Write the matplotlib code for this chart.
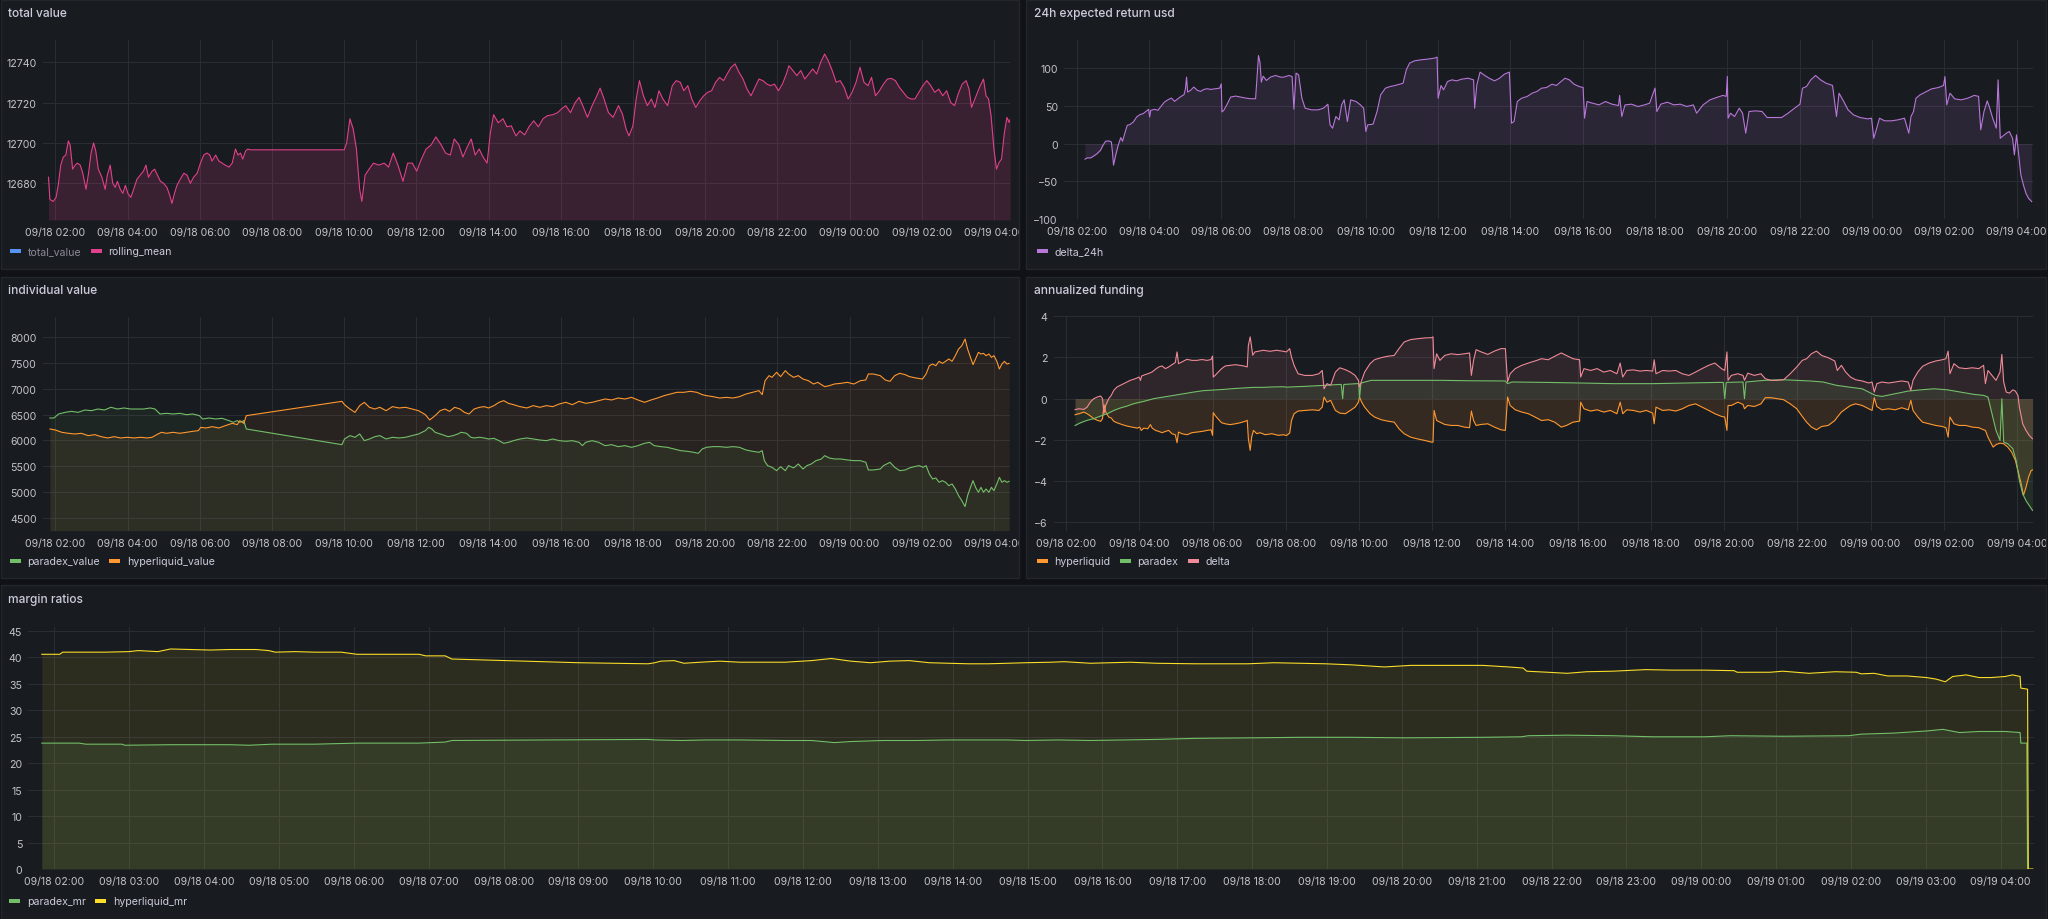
import numpy as np
import matplotlib.pyplot as plt
from matplotlib.patches import Rectangle
from matplotlib.transforms import Bbox, TransformedBbox

plt.rcParams['font.family'] = ['Inter', 'DejaVu Sans']

# --- colours (grafana dark theme) ---
PAGE_BG = '#111217'
PANEL_BG = '#181b1f'
BORDER = '#23262b'
TEXT = '#ccccdc'
TICK = '#c3c3cd'
DIM = '#8b8b96'
GRID = '#2a2d33'

W, H = 2048, 920

# --- time axis: hours since 09/18 00:00 ---
X_MIN, X_MAX = 1.65, 28.45
ticks_2h = [2, 4, 6, 8, 10, 12, 14, 16, 18, 20, 22, 24, 26, 28]
labels_2h = ['09/18 02:00', '09/18 04:00', '09/18 06:00', '09/18 08:00', '09/18 10:00',
             '09/18 12:00', '09/18 14:00', '09/18 16:00', '09/18 18:00', '09/18 20:00',
             '09/18 22:00', '09/19 00:00', '09/19 02:00', '09/19 04:00']
ticks_1h = [2, 3, 4, 5, 6, 7, 8, 9, 10, 11, 12, 13, 14, 15, 16, 17, 18, 19, 20, 21,
            22, 23, 24, 25, 26, 27, 28]
labels_1h = ['09/18 02:00', '09/18 03:00', '09/18 04:00', '09/18 05:00', '09/18 06:00',
             '09/18 07:00', '09/18 08:00', '09/18 09:00', '09/18 10:00', '09/18 11:00',
             '09/18 12:00', '09/18 13:00', '09/18 14:00', '09/18 15:00', '09/18 16:00',
             '09/18 17:00', '09/18 18:00', '09/18 19:00', '09/18 20:00', '09/18 21:00',
             '09/18 22:00', '09/18 23:00', '09/19 00:00', '09/19 01:00', '09/19 02:00',
             '09/19 03:00', '09/19 04:00']

# --- total value: rolling_mean (hour, usd) ---
rolling_mean = [
    (1.81, 12683), (1.85, 12672), (1.94, 12671), (2.02, 12673), (2.08, 12679), (2.15, 12689),
    (2.22, 12693), (2.29, 12694), (2.36, 12701), (2.41, 12699), (2.48, 12687), (2.55, 12689),
    (2.61, 12690), (2.69, 12689), (2.76, 12685), (2.85, 12677), (2.92, 12685), (2.99, 12695),
    (3.06, 12700), (3.12, 12696), (3.19, 12687), (3.29, 12683), (3.38, 12677), (3.44, 12684),
    (3.52, 12689), (3.59, 12680), (3.66, 12678), (3.72, 12681), (3.80, 12677), (3.87, 12675),
    (3.94, 12679), (4.01, 12675), (4.09, 12673), (4.17, 12677), (4.26, 12682), (4.35, 12684),
    (4.44, 12686), (4.51, 12689), (4.58, 12683), (4.68, 12686), (4.75, 12687), (4.83, 12684),
    (4.91, 12681), (5.00, 12680), (5.09, 12678), (5.17, 12674), (5.23, 12670), (5.30, 12675),
    (5.37, 12679), (5.46, 12682), (5.56, 12685), (5.65, 12684), (5.74, 12680), (5.83, 12683),
    (5.93, 12685), (6.02, 12690), (6.11, 12694), (6.20, 12695), (6.28, 12694), (6.34, 12691),
    (6.44, 12694), (6.53, 12691), (6.62, 12690), (6.71, 12689), (6.81, 12688), (6.90, 12690),
    (6.99, 12697), (7.06, 12694), (7.13, 12695), (7.19, 12692), (7.27, 12696), (7.33, 12697),
    (7.40, 12696.6), (10.00, 12696.6), (10.07, 12700), (10.16, 12712), (10.25, 12707),
    (10.34, 12697), (10.43, 12677), (10.49, 12671), (10.58, 12684), (10.69, 12687),
    (10.81, 12690), (10.96, 12689), (11.11, 12690), (11.23, 12688), (11.36, 12695),
    (11.49, 12689), (11.63, 12681), (11.76, 12690), (11.89, 12690), (12.01, 12686),
    (12.14, 12692), (12.27, 12697), (12.41, 12699), (12.54, 12703), (12.69, 12699),
    (12.81, 12695), (12.94, 12694), (13.05, 12702), (13.18, 12699), (13.29, 12693),
    (13.41, 12698), (13.52, 12702), (13.63, 12694), (13.74, 12697), (13.85, 12693),
    (13.96, 12690), (14.05, 12705), (14.14, 12714), (14.27, 12710), (14.40, 12712),
    (14.51, 12708), (14.63, 12708.5), (14.76, 12703.5), (14.87, 12706), (15.00, 12704),
    (15.12, 12708), (15.25, 12711), (15.38, 12708), (15.51, 12712), (15.63, 12713.5),
    (15.78, 12714), (15.91, 12715), (16.03, 12717), (16.14, 12718.5), (16.27, 12715),
    (16.40, 12720), (16.51, 12722.6), (16.63, 12717.6), (16.74, 12712.7), (16.87, 12718.5),
    (17.00, 12723.4), (17.09, 12727.2), (17.20, 12721.8), (17.32, 12715.1), (17.45, 12712.7),
    (17.60, 12718.5), (17.71, 12714.3), (17.81, 12706.9), (17.89, 12703.5), (18.00, 12708.5),
    (18.09, 12721.8), (18.18, 12730.9), (18.29, 12723.4), (18.40, 12718.5), (18.51, 12721.8),
    (18.61, 12717.6), (18.72, 12725.9), (18.83, 12721.8), (18.96, 12718.5), (19.09, 12728.4),
    (19.20, 12730.9), (19.31, 12730.1), (19.41, 12725.9), (19.52, 12728.4), (19.63, 12721.8),
    (19.74, 12717.6), (19.85, 12720.9), (19.96, 12723.4), (20.07, 12725.1), (20.18, 12725.9),
    (20.29, 12730.1), (20.40, 12732.5), (20.51, 12730.9), (20.61, 12734.2), (20.72, 12737.5),
    (20.83, 12739.2), (20.94, 12735.0), (21.05, 12731.7), (21.16, 12726.7), (21.27, 12723.4),
    (21.38, 12727.6), (21.49, 12731.7), (21.60, 12730.9), (21.71, 12729.2), (21.81, 12728.4),
    (21.92, 12729.2), (22.03, 12725.9), (22.14, 12729.2), (22.25, 12734.2), (22.32, 12738.3),
    (22.43, 12735.9), (22.54, 12733.4), (22.65, 12735.9), (22.76, 12731.7), (22.87, 12734.2),
    (22.98, 12736.7), (23.09, 12734.2), (23.20, 12740.0), (23.31, 12744.1), (23.41, 12740.8),
    (23.52, 12735.9), (23.63, 12730.1), (23.74, 12730.9), (23.85, 12727.6), (23.96, 12721.8),
    (24.07, 12725.1), (24.18, 12730.1), (24.29, 12737.5), (24.40, 12730.1), (24.51, 12728.4),
    (24.61, 12732.5), (24.72, 12723.4), (24.83, 12725.9), (24.94, 12729.2), (25.05, 12731.7),
    (25.16, 12732.0), (25.27, 12730.9), (25.38, 12727.6), (25.49, 12725.1), (25.60, 12722.6),
    (25.71, 12721.8), (25.81, 12721.8), (25.92, 12725.1), (26.03, 12728.4), (26.14, 12730.9),
    (26.25, 12728.4), (26.36, 12725.1), (26.47, 12726.7), (26.58, 12723.4), (26.69, 12725.9),
    (26.80, 12720.1), (26.91, 12718.5), (27.01, 12724.3), (27.12, 12729.2), (27.23, 12730.9),
    (27.31, 12726.7), (27.38, 12717.6), (27.49, 12722.6), (27.60, 12727.6), (27.71, 12731.7),
    (27.78, 12723.4), (27.85, 12721.8), (27.92, 12713.5), (28.00, 12696.9), (28.07, 12687.0),
    (28.14, 12690.3), (28.21, 12692.0), (28.29, 12705.2), (28.36, 12712.7), (28.42, 12710.2),
    (28.45, 12711.8),
]

# --- 24h expected return usd: delta_24h ---
delta_24h = [
    (2.23, -20.6), (2.29, -18.9), (2.39, -18.9), (2.48, -16.2), (2.57, -13.2), (2.66, -8.8),
    (2.73, -2.2), (2.80, 3.1), (2.89, 3.5), (2.96, 2.2), (2.99, -11), (3.02, -28.5),
    (3.08, -15.4), (3.15, -2.2), (3.22, 7.9), (3.27, 3.1), (3.33, 13.2), (3.40, 24.1),
    (3.47, 25), (3.57, 28.5), (3.66, 35.1), (3.75, 38.2), (3.84, 39.5), (3.92, 42.5),
    (3.99, 45.2), (4.02, 35), (4.05, 43.9), (4.16, 45.2), (4.25, 43.9), (4.34, 49.6),
    (4.43, 54.8), (4.53, 57.9), (4.62, 60.1), (4.71, 55.7), (4.80, 59.2), (4.89, 62.3),
    (4.97, 64.5), (5.01, 72.4), (5.04, 87.7), (5.07, 68), (5.15, 70.2), (5.24, 74.6),
    (5.34, 70.2), (5.43, 68.9), (5.52, 71.5), (5.61, 72.4), (5.71, 71.5), (5.84, 72.4),
    (5.96, 73.2), (6.00, 78.9), (6.02, 41.7), (6.07, 43.9), (6.17, 52.6), (6.26, 61.4),
    (6.40, 62.7), (6.53, 61.4), (6.67, 60.1), (6.81, 59.2), (6.95, 59.2), (6.99, 87.7),
    (7.03, 116.2), (7.07, 107.5), (7.11, 81.1), (7.16, 89), (7.25, 83.3), (7.36, 87.7),
    (7.50, 89.9), (7.64, 87.7), (7.73, 87.7), (7.87, 89.9), (7.96, 88.5), (8.01, 45.4),
    (8.07, 93), (8.14, 90.7), (8.23, 60), (8.32, 46.7), (8.50, 44.5), (8.68, 44.5),
    (8.83, 46.7), (8.95, 52), (9.01, 24.7), (9.08, 20.3), (9.17, 35.7), (9.26, 31.3),
    (9.33, 51.1), (9.40, 57.7), (9.49, 29.1), (9.58, 57.7), (9.73, 55.5), (9.85, 51.1),
    (9.94, 46.7), (10.00, 15.9), (10.05, 24.7), (10.20, 25.6), (10.31, 42.3), (10.41, 64.3),
    (10.54, 73.1), (10.67, 75.3), (10.81, 76.7), (10.94, 78.4), (11.03, 79.7), (11.12, 97.4),
    (11.21, 106.2), (11.35, 109.3), (11.53, 110.6), (11.71, 111.5), (11.90, 112.8),
    (11.97, 114.1), (12.00, 59.9), (12.08, 76.7), (12.15, 70.9), (12.26, 81.9), (12.38, 84.1),
    (12.51, 82.8), (12.65, 85), (12.83, 86.3), (12.98, 84.1), (13.01, 46.7), (13.07, 77.5),
    (13.16, 94.3), (13.29, 89.9), (13.41, 86.3), (13.56, 82.8), (13.70, 86.3), (13.83, 91.6),
    (13.97, 94.3), (14.03, 26.9), (14.10, 29.1), (14.19, 55.5), (14.31, 59.9), (14.46, 62.1),
    (14.60, 66.5), (14.73, 68.7), (14.86, 73.1), (15.00, 74), (15.15, 78.4), (15.27, 76.7),
    (15.40, 81.9), (15.51, 86.3), (15.63, 84.1), (15.76, 78.4), (15.90, 75.3), (16.01, 74),
    (16.05, 33.5), (16.12, 55.5), (16.27, 53.3), (16.45, 51.1), (16.63, 55.5), (16.81, 52),
    (16.99, 50.2), (17.02, 63.6), (17.08, 35.7), (17.17, 51.1), (17.35, 52), (17.53, 48.9),
    (17.71, 51.1), (17.85, 53.3), (18.00, 73.3), (18.05, 42.3), (18.16, 52), (18.34, 54.6),
    (18.52, 51.1), (18.70, 52), (18.88, 48.9), (19.06, 51.1), (19.15, 40.1), (19.33, 51.1),
    (19.52, 57.7), (19.70, 60.8), (19.88, 63.6), (19.97, 62.3), (20.00, 88.7), (20.02, 33.5),
    (20.09, 40.1), (20.20, 35.7), (20.33, 46.7), (20.42, 40.1), (20.51, 13.7), (20.60, 42.3),
    (20.78, 43.2), (20.96, 42.3), (21.10, 34.4), (21.32, 34.4), (21.50, 34.4), (21.68, 40.1),
    (21.86, 46.7), (22.01, 52), (22.08, 73.1), (22.19, 75.3), (22.31, 84.1), (22.44, 89.9),
    (22.58, 84.1), (22.73, 79.7), (22.91, 76.7), (23.02, 35.7), (23.09, 66.5), (23.22, 55.5),
    (23.34, 44.5), (23.49, 37.9), (23.67, 34.4), (23.88, 32.6), (23.99, 33.5), (24.05, 7),
    (24.12, 18.1), (24.21, 33.5), (24.35, 30), (24.54, 30), (24.72, 31.3), (24.90, 33.5),
    (25.02, 13.7), (25.08, 35.7), (25.15, 42.3), (25.22, 59.9), (25.33, 64.3), (25.47, 67.8),
    (25.65, 72.2), (25.84, 74), (25.98, 76.7), (26.02, 88.5), (26.07, 51.1), (26.16, 66.5),
    (26.29, 59), (26.47, 57.7), (26.65, 59.9), (26.83, 63.6), (26.95, 62.3), (27.01, 18.1),
    (27.10, 42.3), (27.19, 56.4), (27.26, 46.7), (27.34, 33.5), (27.44, 20.3), (27.49, 84.1),
    (27.55, 7), (27.61, 9.3), (27.72, 13.7), (27.80, 15.9), (27.89, 7), (27.94, -15),
    (28.00, 11.5), (28.06, -15), (28.12, -41.4), (28.19, -54.6), (28.26, -65.6),
    (28.33, -72.2), (28.42, -76.7),
]

# --- individual value ---
paradex_value = [
    (1.85, 6433), (1.96, 6433), (2.09, 6510), (2.27, 6542), (2.45, 6561), (2.63, 6542),
    (2.82, 6587), (3.00, 6574), (3.18, 6606), (3.36, 6587), (3.54, 6639), (3.72, 6606),
    (3.90, 6626), (4.09, 6606), (4.27, 6606), (4.45, 6606), (4.63, 6626), (4.76, 6606),
    (4.90, 6510), (5.08, 6523), (5.26, 6510), (5.45, 6523), (5.63, 6497), (5.81, 6510),
    (5.99, 6478), (6.08, 6414), (6.26, 6433), (6.44, 6414), (6.62, 6427), (6.81, 6382),
    (6.93, 6350), (7.04, 6382), (7.11, 6350), (7.22, 6382), (7.29, 6221), (9.94, 5919),
    (10.01, 6028), (10.16, 6093), (10.30, 6061), (10.43, 6125), (10.56, 5996), (10.70, 6028),
    (10.85, 6073), (10.99, 6093), (11.16, 6028), (11.34, 6061), (11.52, 6048), (11.70, 6061),
    (11.88, 6093), (12.06, 6125), (12.25, 6189), (12.34, 6253), (12.43, 6221), (12.52, 6157),
    (12.66, 6125), (12.79, 6093), (12.88, 6073), (13.02, 6093), (13.15, 6125), (13.24, 6157),
    (13.39, 6138), (13.51, 6061), (13.60, 6048), (13.75, 6061), (13.88, 6048), (14.00, 6028),
    (14.15, 6041), (14.29, 5996), (14.42, 5945), (14.55, 5964), (14.69, 5996), (14.87, 6028),
    (15.06, 6048), (15.24, 6028), (15.42, 6009), (15.60, 5996), (15.78, 6028), (15.96, 5996),
    (16.14, 5984), (16.32, 5996), (16.51, 5964), (16.60, 5900), (16.69, 5964), (16.87, 5996),
    (17.05, 5964), (17.23, 5900), (17.41, 5919), (17.59, 5881), (17.78, 5900), (17.96, 5868),
    (18.14, 5900), (18.32, 5945), (18.46, 5964), (18.59, 5900), (18.77, 5881), (18.95, 5868),
    (19.13, 5836), (19.32, 5804), (19.50, 5791), (19.68, 5772), (19.81, 5752), (19.92, 5836),
    (20.04, 5868), (20.22, 5881), (20.40, 5881), (20.59, 5868), (20.77, 5881), (20.95, 5868),
    (21.13, 5817), (21.31, 5791), (21.49, 5772), (21.58, 5804), (21.64, 5611), (21.73, 5515),
    (21.85, 5483), (21.98, 5418), (22.09, 5495), (22.22, 5418), (22.31, 5515), (22.45, 5470),
    (22.58, 5547), (22.71, 5450), (22.82, 5515), (22.94, 5547), (23.07, 5611), (23.22, 5643),
    (23.31, 5707), (23.44, 5662), (23.58, 5643), (23.76, 5643), (23.94, 5624), (24.12, 5611),
    (24.30, 5611), (24.45, 5579), (24.52, 5431), (24.66, 5431), (24.85, 5450), (24.94, 5515),
    (25.03, 5547), (25.12, 5579), (25.25, 5483), (25.39, 5418), (25.54, 5431), (25.66, 5470),
    (25.79, 5495), (25.93, 5515), (26.04, 5483), (26.12, 5515), (26.21, 5354), (26.30, 5258),
    (26.39, 5277), (26.48, 5194), (26.57, 5226), (26.66, 5194), (26.75, 5129), (26.84, 5162),
    (26.93, 5065), (27.02, 4937), (27.11, 4840), (27.20, 4725), (27.27, 4937), (27.35, 5097),
    (27.42, 5226), (27.49, 5097), (27.57, 5001), (27.64, 5097), (27.71, 5001), (27.78, 5065),
    (27.86, 5001), (27.93, 5097), (28.00, 5033), (28.08, 5162), (28.15, 5290), (28.22, 5194),
    (28.29, 5226), (28.36, 5194), (28.42, 5213),
]
hyperliquid_value = [
    (1.85, 6221), (2.00, 6202), (2.18, 6157), (2.36, 6138), (2.54, 6125), (2.72, 6138),
    (2.91, 6093), (3.09, 6112), (3.27, 6073), (3.45, 6048), (3.63, 6073), (3.81, 6048),
    (3.99, 6061), (4.18, 6048), (4.36, 6061), (4.54, 6048), (4.68, 6061), (4.81, 6112),
    (4.94, 6157), (5.08, 6138), (5.26, 6157), (5.45, 6138), (5.63, 6157), (5.81, 6176),
    (5.96, 6189), (6.03, 6253), (6.17, 6240), (6.35, 6266), (6.53, 6240), (6.71, 6285),
    (6.90, 6330), (7.04, 6305), (7.11, 6382), (7.22, 6330), (7.29, 6478), (9.94, 6754),
    (10.01, 6690), (10.16, 6606), (10.30, 6542), (10.43, 6671), (10.56, 6735), (10.70, 6639),
    (10.85, 6606), (10.99, 6639), (11.16, 6574), (11.34, 6652), (11.52, 6626), (11.70, 6639),
    (11.88, 6606), (12.06, 6574), (12.25, 6497), (12.37, 6395), (12.52, 6478), (12.66, 6574),
    (12.79, 6606), (12.92, 6561), (13.06, 6639), (13.21, 6606), (13.33, 6542), (13.46, 6510),
    (13.60, 6606), (13.75, 6639), (13.88, 6652), (14.00, 6626), (14.15, 6671), (14.29, 6735),
    (14.42, 6767), (14.55, 6716), (14.69, 6690), (14.87, 6652), (15.06, 6626), (15.24, 6671),
    (15.42, 6639), (15.60, 6671), (15.78, 6652), (15.96, 6703), (16.14, 6735), (16.32, 6690),
    (16.51, 6754), (16.69, 6716), (16.87, 6735), (17.05, 6767), (17.23, 6799), (17.41, 6780),
    (17.59, 6818), (17.78, 6799), (17.96, 6831), (18.14, 6780), (18.32, 6735), (18.50, 6780),
    (18.68, 6818), (18.86, 6863), (19.04, 6895), (19.22, 6928), (19.41, 6928), (19.59, 6947),
    (19.77, 6928), (19.92, 6883), (20.04, 6863), (20.22, 6844), (20.40, 6818), (20.59, 6831),
    (20.77, 6818), (20.95, 6844), (21.13, 6895), (21.31, 6928), (21.49, 6960), (21.58, 6883),
    (21.66, 7152), (21.77, 7249), (21.85, 7217), (21.98, 7313), (22.09, 7230), (22.22, 7345),
    (22.31, 7281), (22.45, 7217), (22.58, 7249), (22.71, 7184), (22.86, 7152), (23.00, 7088),
    (23.12, 7120), (23.31, 7037), (23.44, 7056), (23.58, 7088), (23.76, 7101), (23.94, 7120),
    (24.12, 7088), (24.30, 7152), (24.45, 7165), (24.52, 7281), (24.66, 7281), (24.85, 7249),
    (24.99, 7165), (25.12, 7139), (25.25, 7249), (25.39, 7294), (25.54, 7268), (25.66, 7230),
    (25.84, 7204), (26.02, 7184), (26.12, 7281), (26.21, 7441), (26.30, 7473), (26.39, 7441),
    (26.48, 7525), (26.57, 7486), (26.66, 7525), (26.75, 7570), (26.84, 7525), (26.93, 7634),
    (27.02, 7762), (27.11, 7827), (27.20, 7955), (27.27, 7762), (27.35, 7602), (27.42, 7461),
    (27.49, 7570), (27.57, 7698), (27.64, 7666), (27.71, 7679), (27.78, 7634), (27.86, 7666),
    (27.93, 7602), (28.00, 7634), (28.08, 7525), (28.15, 7377), (28.22, 7473), (28.29, 7525),
    (28.36, 7473), (28.42, 7486),
]

# --- annualized funding ---
funding_hyperliquid = [
    (2.24, -0.78), (2.35, -0.73), (2.48, -0.65), (2.57, -0.73), (2.66, -0.84), (2.75, -0.97),
    (2.85, -1.05), (2.94, -1.10), (2.99, -0.97), (3.03, -0.29), (3.08, -0.65), (3.16, -0.89),
    (3.23, -0.94), (3.30, -1.10), (3.39, -1.17), (3.53, -1.26), (3.66, -1.33), (3.80, -1.38),
    (3.94, -1.43), (4.01, -1.38), (4.05, -1.54), (4.12, -1.43), (4.23, -1.46), (4.30, -1.26),
    (4.35, -1.43), (4.44, -1.54), (4.53, -1.59), (4.62, -1.65), (4.71, -1.59), (4.80, -1.54),
    (4.89, -1.70), (4.98, -1.75), (5.03, -2.14), (5.07, -1.62), (5.16, -1.70), (5.30, -1.75),
    (5.44, -1.65), (5.57, -1.62), (5.71, -1.59), (5.85, -1.54), (5.96, -1.51), (6.00, -1.78),
    (6.02, -0.68), (6.07, -0.81), (6.16, -1.00), (6.25, -1.17), (6.35, -1.22), (6.48, -1.26),
    (6.62, -1.22), (6.75, -1.17), (6.89, -1.10), (6.95, -1.05), (6.98, -1.94), (7.03, -2.51),
    (7.07, -1.86), (7.12, -1.54), (7.21, -1.70), (7.30, -1.65), (7.44, -1.75), (7.62, -1.70),
    (7.80, -1.78), (7.94, -1.75), (8.02, -1.79), (8.11, -1.67), (8.16, -1.06), (8.23, -0.73),
    (8.34, -0.60), (8.52, -0.57), (8.73, -0.54), (8.91, -0.57), (9.00, -0.41), (9.05, 0.08),
    (9.13, -0.17), (9.23, -0.08), (9.36, -0.57), (9.48, -0.70), (9.63, -0.73), (9.77, -0.57),
    (9.90, -0.41), (9.99, -0.17), (10.02, 0.08), (10.08, -0.17), (10.16, -0.41), (10.31, -0.73),
    (10.43, -0.89), (10.61, -1.02), (10.79, -1.09), (10.97, -1.14), (11.10, -1.46),
    (11.24, -1.70), (11.42, -1.87), (11.60, -1.95), (11.81, -2.03), (11.99, -2.11),
    (12.03, -2.11), (12.06, -0.57), (12.13, -1.06), (12.22, -1.14), (12.35, -1.25),
    (12.53, -1.30), (12.71, -1.30), (12.89, -1.38), (13.03, -1.41), (13.08, -0.60),
    (13.14, -1.06), (13.21, -1.30), (13.35, -1.25), (13.53, -1.22), (13.71, -1.38),
    (13.89, -1.51), (14.01, -1.54), (14.07, 0.08), (14.14, -0.33), (14.28, -0.54),
    (14.46, -0.65), (14.64, -0.73), (14.82, -0.89), (15.00, -1.06), (15.18, -1.02),
    (15.36, -1.14), (15.54, -1.38), (15.68, -1.30), (15.86, -1.14), (16.04, -1.09),
    (16.07, -0.17), (16.16, -0.49), (16.34, -0.60), (16.52, -0.54), (16.70, -0.65),
    (16.88, -0.57), (17.06, -0.73), (17.15, -0.17), (17.22, -0.73), (17.33, -0.54),
    (17.51, -0.57), (17.69, -0.65), (17.86, -0.57), (18.04, -0.70), (18.08, -1.22),
    (18.13, -0.41), (18.31, -0.57), (18.49, -0.54), (18.67, -0.60), (18.85, -0.49),
    (19.03, -0.33), (19.21, -0.25), (19.39, -0.41), (19.57, -0.57), (19.74, -0.73),
    (19.92, -0.86), (20.01, -0.89), (20.07, -1.54), (20.10, -0.33), (20.19, -0.33),
    (20.37, -0.17), (20.51, -0.28), (20.55, -0.49), (20.64, -0.33), (20.82, -0.38),
    (21.00, -0.25), (21.12, 0.05), (21.27, 0.05), (21.44, 0.00), (21.62, -0.05),
    (21.80, -0.25), (21.98, -0.49), (22.13, -0.86), (22.25, -1.14), (22.38, -1.38),
    (22.52, -1.51), (22.66, -1.35), (22.84, -1.30), (23.02, -1.06), (23.09, -0.89),
    (23.20, -0.65), (23.32, -0.49), (23.45, -0.33), (23.59, -0.25), (23.77, -0.33),
    (23.95, -0.49), (24.04, -0.57), (24.10, 0.05), (24.17, -0.38), (24.31, -0.54),
    (24.49, -0.49), (24.67, -0.54), (24.85, -0.44), (25.03, -0.54), (25.10, -0.08),
    (25.16, -0.57), (25.29, -0.89), (25.42, -1.14), (25.60, -1.22), (25.78, -1.30),
    (25.96, -1.35), (26.06, -1.41), (26.12, -1.87), (26.17, -0.89), (26.28, -1.22),
    (26.42, -1.30), (26.60, -1.30), (26.78, -1.38), (26.96, -1.41), (27.09, -1.51),
    (27.14, -1.54), (27.21, -1.87), (27.28, -2.11), (27.35, -2.35), (27.44, -2.22),
    (27.54, -2.16), (27.64, -2.19), (27.75, -2.35), (27.86, -2.60), (27.96, -3.00),
    (28.03, -3.49), (28.11, -4.06), (28.18, -4.70), (28.25, -4.30), (28.32, -3.81),
    (28.39, -3.49), (28.43, -3.46),
]
funding_paradex = [
    (2.24, -1.30), (2.39, -1.17), (2.57, -1.05), (2.75, -0.97), (2.94, -0.84), (3.12, -0.73),
    (3.30, -0.57), (3.48, -0.45), (3.66, -0.36), (3.85, -0.24), (4.12, -0.13), (4.39, 0.00),
    (4.66, 0.08), (4.94, 0.16), (5.21, 0.24), (5.48, 0.32), (5.75, 0.39), (6.03, 0.42),
    (6.30, 0.45), (6.57, 0.49), (6.85, 0.52), (7.12, 0.55), (7.39, 0.55), (7.66, 0.57),
    (7.94, 0.58), (8.02, 0.56), (8.55, 0.60), (9.09, 0.65), (9.45, 0.69), (9.52, 0.69),
    (9.56, 0.00), (9.59, 0.69), (9.95, 0.73), (10.00, 0.73), (10.02, 0.00), (10.06, 0.76),
    (10.34, 0.89), (10.88, 0.89), (11.60, 0.89), (12.31, 0.89), (13.03, 0.87), (14.01, 0.86),
    (14.07, 0.73), (14.19, 0.81), (15.18, 0.79), (16.07, 0.76), (16.97, 0.73), (17.24, 0.73),
    (18.04, 0.73), (18.94, 0.76), (19.83, 0.79), (19.97, 0.79), (20.01, 0.00), (20.05, 0.79),
    (20.51, 0.81), (20.55, 0.00), (20.59, 0.81), (21.09, 0.89), (21.62, 0.92), (21.98, 0.89),
    (22.34, 0.86), (22.70, 0.81), (23.06, 0.65), (23.42, 0.56), (23.77, 0.48), (23.95, 0.32),
    (24.13, 0.16), (24.31, 0.11), (24.67, 0.24), (25.03, 0.37), (25.38, 0.43), (25.74, 0.48),
    (26.10, 0.43), (26.46, 0.32), (26.82, 0.21), (27.09, 0.16), (27.21, 0.08), (27.32, -0.73),
    (27.43, -1.54), (27.54, -2.03), (27.59, 0.00), (27.64, -2.11), (27.75, -2.19),
    (27.89, -2.43), (27.98, -3.00), (28.07, -3.97), (28.16, -4.62), (28.25, -4.95),
    (28.34, -5.19), (28.43, -5.43),
]
funding_delta = [
    (2.24, -0.53), (2.35, -0.49), (2.48, -0.52), (2.57, -0.41), (2.66, -0.16), (2.75, 0.00),
    (2.85, 0.08), (2.94, 0.13), (2.99, 0.00), (3.03, -0.73), (3.08, -0.32), (3.16, 0.00),
    (3.23, 0.16), (3.30, 0.41), (3.39, 0.57), (3.48, 0.65), (3.57, 0.73), (3.66, 0.81),
    (3.75, 0.89), (3.89, 0.97), (3.99, 1.05), (4.03, 0.89), (4.06, 1.10), (4.16, 1.17),
    (4.25, 1.22), (4.35, 1.30), (4.44, 1.43), (4.53, 1.54), (4.62, 1.59), (4.71, 1.46),
    (4.80, 1.54), (4.89, 1.65), (4.98, 1.75), (5.03, 2.27), (5.07, 1.70), (5.16, 1.78),
    (5.30, 1.91), (5.44, 1.86), (5.57, 1.86), (5.71, 1.90), (5.85, 1.86), (5.96, 1.90),
    (6.00, 2.07), (6.02, 1.05), (6.07, 1.13), (6.16, 1.30), (6.25, 1.46), (6.35, 1.59),
    (6.48, 1.62), (6.62, 1.65), (6.75, 1.62), (6.85, 1.59), (6.95, 1.54), (6.98, 2.59),
    (7.03, 3.00), (7.07, 2.51), (7.10, 2.11), (7.16, 2.27), (7.25, 2.30), (7.39, 2.35),
    (7.57, 2.30), (7.75, 2.35), (7.94, 2.30), (8.02, 2.27), (8.11, 2.43), (8.16, 2.02),
    (8.23, 1.62), (8.34, 1.21), (8.52, 1.13), (8.73, 1.13), (8.91, 1.21), (9.00, 1.37),
    (9.05, 0.48), (9.13, 0.73), (9.23, 0.65), (9.36, 1.29), (9.48, 1.50), (9.63, 1.41),
    (9.77, 1.29), (9.90, 1.13), (9.99, 0.89), (10.02, 0.56), (10.08, 0.89), (10.16, 1.29),
    (10.31, 1.70), (10.43, 1.89), (10.61, 1.99), (10.79, 2.06), (10.97, 2.10), (11.10, 2.43),
    (11.24, 2.75), (11.42, 2.87), (11.60, 2.91), (11.81, 2.95), (11.99, 2.96), (12.03, 3.00),
    (12.06, 1.46), (12.13, 2.18), (12.22, 1.86), (12.35, 2.10), (12.53, 2.18), (12.71, 2.14),
    (12.89, 2.18), (13.03, 2.22), (13.08, 1.13), (13.14, 1.86), (13.21, 2.38), (13.35, 2.27),
    (13.53, 2.15), (13.71, 2.31), (13.89, 2.43), (14.01, 2.43), (14.07, 0.81), (14.14, 1.21),
    (14.28, 1.46), (14.46, 1.62), (14.64, 1.73), (14.82, 1.83), (15.00, 1.94), (15.18, 1.89),
    (15.36, 2.06), (15.54, 2.22), (15.68, 2.10), (15.86, 1.94), (16.04, 1.89), (16.07, 1.05),
    (16.16, 1.46), (16.34, 1.37), (16.52, 1.46), (16.70, 1.29), (16.88, 1.37), (17.06, 1.21),
    (17.15, 1.73), (17.22, 1.05), (17.33, 1.37), (17.51, 1.40), (17.69, 1.34), (17.86, 1.37),
    (18.04, 1.34), (18.08, 1.89), (18.13, 1.21), (18.31, 1.37), (18.49, 1.34), (18.67, 1.37),
    (18.85, 1.21), (19.03, 1.13), (19.21, 1.29), (19.39, 1.46), (19.57, 1.62), (19.74, 1.73),
    (19.92, 1.46), (20.01, 1.37), (20.07, 2.27), (20.10, 0.89), (20.19, 1.13), (20.37, 1.21),
    (20.51, 1.13), (20.55, 0.89), (20.64, 1.24), (20.82, 1.13), (21.00, 1.21), (21.12, 0.97),
    (21.27, 0.89), (21.44, 0.89), (21.62, 0.92), (21.80, 1.21), (21.98, 1.54), (22.13, 1.86),
    (22.25, 1.94), (22.38, 2.18), (22.52, 2.31), (22.66, 2.10), (22.84, 1.99), (23.02, 1.83),
    (23.09, 1.37), (23.20, 1.62), (23.32, 1.29), (23.45, 1.05), (23.59, 0.92), (23.77, 0.86),
    (23.95, 0.76), (24.04, 0.81), (24.10, 0.32), (24.17, 0.73), (24.31, 0.81), (24.49, 0.76),
    (24.67, 0.81), (24.85, 0.86), (25.03, 0.81), (25.10, 0.40), (25.16, 0.89), (25.29, 1.29),
    (25.42, 1.57), (25.60, 1.73), (25.78, 1.83), (25.96, 1.89), (26.06, 1.94), (26.12, 2.31),
    (26.17, 1.21), (26.28, 1.70), (26.42, 1.50), (26.60, 1.46), (26.78, 1.50), (26.96, 1.46),
    (27.09, 1.62), (27.14, 0.73), (27.21, 1.37), (27.32, 1.13), (27.43, 0.89), (27.54, 1.29),
    (27.59, 2.15), (27.64, 0.81), (27.71, 0.32), (27.80, 0.27), (27.89, 0.43), (27.96, 0.37),
    (28.03, 0.16), (28.07, -0.41), (28.16, -1.22), (28.25, -1.54), (28.34, -1.79),
    (28.43, -1.95),
]

# --- margin ratios ---
paradex_mr = [
    (1.83, 23.8), (2.33, 23.8), (2.42, 23.6), (2.90, 23.6), (2.94, 23.4), (3.55, 23.5),
    (3.90, 23.5), (4.34, 23.5), (4.60, 23.4), (4.91, 23.6), (5.48, 23.6), (6.04, 23.8),
    (6.52, 23.8), (6.87, 23.8), (7.22, 24.0), (7.31, 24.3), (9.93, 24.5), (10.02, 24.4),
    (10.37, 24.3), (10.72, 24.4), (11.15, 24.4), (11.76, 24.3), (12.11, 24.3), (12.42, 23.9),
    (12.64, 24.1), (13.07, 24.3), (13.51, 24.3), (13.95, 24.4), (14.38, 24.4), (14.73, 24.4),
    (14.97, 24.3), (15.41, 24.4), (15.84, 24.3), (16.72, 24.5), (17.24, 24.7), (18.02, 24.8),
    (18.64, 24.9), (19.33, 24.9), (20.03, 24.8), (21.08, 24.9), (21.60, 25.0), (21.69, 25.2),
    (22.21, 25.3), (22.82, 25.2), (23.35, 25.0), (24.05, 25.0), (24.39, 25.2), (25.09, 25.1),
    (25.97, 25.2), (26.14, 25.5), (26.58, 25.7), (27.01, 26.1), (27.23, 26.4), (27.45, 25.8),
    (27.71, 26.0), (28.06, 26.0), (28.26, 25.8), (28.27, 23.8), (28.35, 23.8), (28.36, 0.0),
]
hyperliquid_mr = [
    (1.83, 40.6), (2.07, 40.6), (2.11, 41.0), (2.42, 41.0), (2.68, 41.0), (2.99, 41.1),
    (3.12, 41.3), (3.38, 41.1), (3.55, 41.6), (3.82, 41.5), (4.08, 41.4), (4.34, 41.5),
    (4.69, 41.5), (4.86, 41.3), (4.95, 41.0), (5.21, 41.1), (5.48, 41.0), (5.83, 41.0),
    (6.04, 40.6), (6.35, 40.6), (6.61, 40.6), (6.87, 40.6), (6.96, 40.3), (7.22, 40.3),
    (7.31, 39.7), (9.01, 39.0), (9.93, 38.8), (10.02, 39.0), (10.10, 39.3), (10.28, 39.4),
    (10.41, 38.9), (10.63, 39.1), (10.89, 39.3), (11.15, 39.1), (11.41, 39.1), (11.76, 39.1),
    (12.11, 39.4), (12.38, 39.8), (12.64, 39.3), (12.90, 39.0), (13.16, 39.3), (13.42, 39.4),
    (13.69, 39.0), (13.95, 38.9), (14.21, 38.8), (14.47, 38.8), (14.73, 38.9), (14.97, 39.0),
    (15.32, 39.1), (15.49, 39.2), (15.84, 38.9), (16.37, 39.1), (16.72, 38.9), (17.24, 38.8),
    (17.59, 38.8), (17.94, 38.8), (18.29, 39.0), (18.64, 38.9), (18.98, 38.8), (19.33, 38.6),
    (19.77, 38.2), (20.12, 38.5), (20.64, 38.5), (21.08, 38.5), (21.43, 38.2), (21.62, 38.0),
    (21.67, 37.4), (21.95, 37.2), (22.21, 37.0), (22.47, 37.3), (22.82, 37.4), (23.26, 37.7),
    (23.61, 37.6), (24.05, 37.6), (24.44, 37.5), (24.48, 37.2), (24.92, 37.2), (25.09, 37.4),
    (25.44, 37.0), (25.79, 37.3), (26.07, 37.2), (26.14, 36.9), (26.31, 37.0), (26.49, 36.5),
    (26.75, 36.5), (27.01, 36.2), (27.14, 35.9), (27.26, 35.4), (27.36, 36.4), (27.54, 36.7),
    (27.71, 36.2), (27.88, 36.2), (28.06, 36.4), (28.16, 36.7), (28.26, 36.4), (28.27, 34.2),
    (28.36, 34.0), (28.37, 0.0), (28.43, 0.0),
]


def fx(x):
    return x / W


def fy(y):
    return 1 - y / H


def panel(fig, left, top, right, bottom, title):
    fig.patches.append(Rectangle((fx(left), fy(bottom)), (right - left) / W, (bottom - top) / H,
                                 transform=fig.transFigure, fc=PANEL_BG, ec=BORDER, lw=1,
                                 zorder=-5))
    fig.text(fx(left + 8), fy(top + 13.5), title, color=TEXT, fontsize=8.6,
             fontweight='medium', ha='left', va='center')
    return TransformedBbox(Bbox.from_extents(fx(left), fy(bottom), fx(right), fy(top)),
                           fig.transFigure)


def plot_axes(fig, left, top, right, bottom, ylim, yticks, xticks, xlabels, clip):
    ax = fig.add_axes([fx(left), fy(bottom), (right - left) / W, (bottom - top) / H])
    ax.set_facecolor('none')
    ax.set_xlim(X_MIN, X_MAX)
    ax.set_ylim(*ylim)
    ax.set_xticks(xticks)
    ax.set_xticklabels(xlabels)
    ax.set_yticks(yticks)
    ax.tick_params(length=0, colors=TICK, labelsize=7.6)
    ax.tick_params(axis='x', pad=5.0)
    ax.tick_params(axis='y', pad=4.4)
    ax.grid(True, color=GRID, lw=0.8)
    ax.set_axisbelow(True)
    for s in ax.spines.values():
        s.set_visible(False)
    for lab in ax.get_xticklabels():
        lab.set_clip_box(clip)
        lab.set_clip_on(True)
    return ax


def legend(fig, x, y, items):
    renderer = fig.canvas.get_renderer()
    for label, color, dim in items:
        fig.patches.append(Rectangle((fx(x), fy(y + 2)), 11 / W, 4 / H,
                                     transform=fig.transFigure, fc=color, ec='none'))
        t = fig.text(fx(x + 17.5), fy(y), label, color=DIM if dim else TEXT,
                     fontsize=7.6, ha='left', va='center')
        w = t.get_window_extent(renderer).width
        x = x + 17.5 + w + 9.5


def series(ax, data, color, base, alpha, lw=0.8):
    arr = np.array(data)
    ax.fill_between(arr[:, 0], arr[:, 1], base, color=color, alpha=alpha, lw=0)
    ax.plot(arr[:, 0], arr[:, 1], color=color, lw=lw)


PINK = '#E2408A'
BLUE = '#5794F2'
PURPLE = '#B877D9'
GREEN = '#73BF69'
ORANGE = '#FF9830'
SALMON = '#F08A98'
YELLOW = '#FADE2A'

fig = plt.figure(figsize=(W / 100, H / 100), dpi=100, facecolor=PAGE_BG)

# total value
clip = panel(fig, 0.5, 0.5, 1019, 270, 'total value')
ax = plot_axes(fig, 42.7, 40.5, 1010.2, 221, (12661.8, 12751.3),
               [12680, 12700, 12720, 12740], ticks_2h, labels_2h, clip)
series(ax, rolling_mean, PINK, 12661.8, 0.17)
legend(fig, 10, 252.3, [('total_value', BLUE, True), ('rolling_mean', PINK, False)])

# 24h expected return usd
clip = panel(fig, 1026, 0.5, 2046, 270, '24h expected return usd')
ax = plot_axes(fig, 1064, 40.5, 2032.8, 220.3, (-100, 137.4),
               [-100, -50, 0, 50, 100], ticks_2h, labels_2h, clip)
series(ax, delta_24h, PURPLE, 0, 0.12)
legend(fig, 1036.7, 252.3, [('delta_24h', PURPLE, False)])

# individual value
clip = panel(fig, 0.5, 278, 1019, 579, 'individual value')
ax = plot_axes(fig, 42.7, 317.7, 1010.2, 531.7, (4261, 8385),
               [4500, 5000, 5500, 6000, 6500, 7000, 7500, 8000], ticks_2h, labels_2h, clip)
series(ax, paradex_value, GREEN, 4261, 0.07)
series(ax, hyperliquid_value, ORANGE, 4261, 0.07)
legend(fig, 9.5, 561.7, [('paradex_value', GREEN, False), ('hyperliquid_value', ORANGE, False)])

# annualized funding
clip = panel(fig, 1026, 278, 2046, 579, 'annualized funding')
ax = plot_axes(fig, 1053.5, 317.3, 2033.3, 531.7, (-6.41, 4.0),
               [-6, -4, -2, 0, 2, 4], ticks_2h, labels_2h, clip)
series(ax, funding_hyperliquid, ORANGE, 0, 0.12)
series(ax, funding_paradex, GREEN, 0, 0.12)
series(ax, funding_delta, SALMON, 0, 0.10)
legend(fig, 1036.7, 561.7, [('hyperliquid', ORANGE, False), ('paradex', GREEN, False),
                            ('delta', SALMON, False)])

# margin ratios
clip = panel(fig, 0.5, 586, 2046, 919.5, 'margin ratios')
ax = plot_axes(fig, 28.3, 628.3, 2034.3, 870, (0, 45.7),
               [0, 5, 10, 15, 20, 25, 30, 35, 40, 45], ticks_1h, labels_1h, clip)
series(ax, paradex_mr, GREEN, 0, 0.10)
series(ax, hyperliquid_mr, YELLOW, 0, 0.09)
legend(fig, 9.3, 902.3, [('paradex_mr', GREEN, False), ('hyperliquid_mr', YELLOW, False)])

fig.savefig('out.png', dpi=100, facecolor=PAGE_BG)
